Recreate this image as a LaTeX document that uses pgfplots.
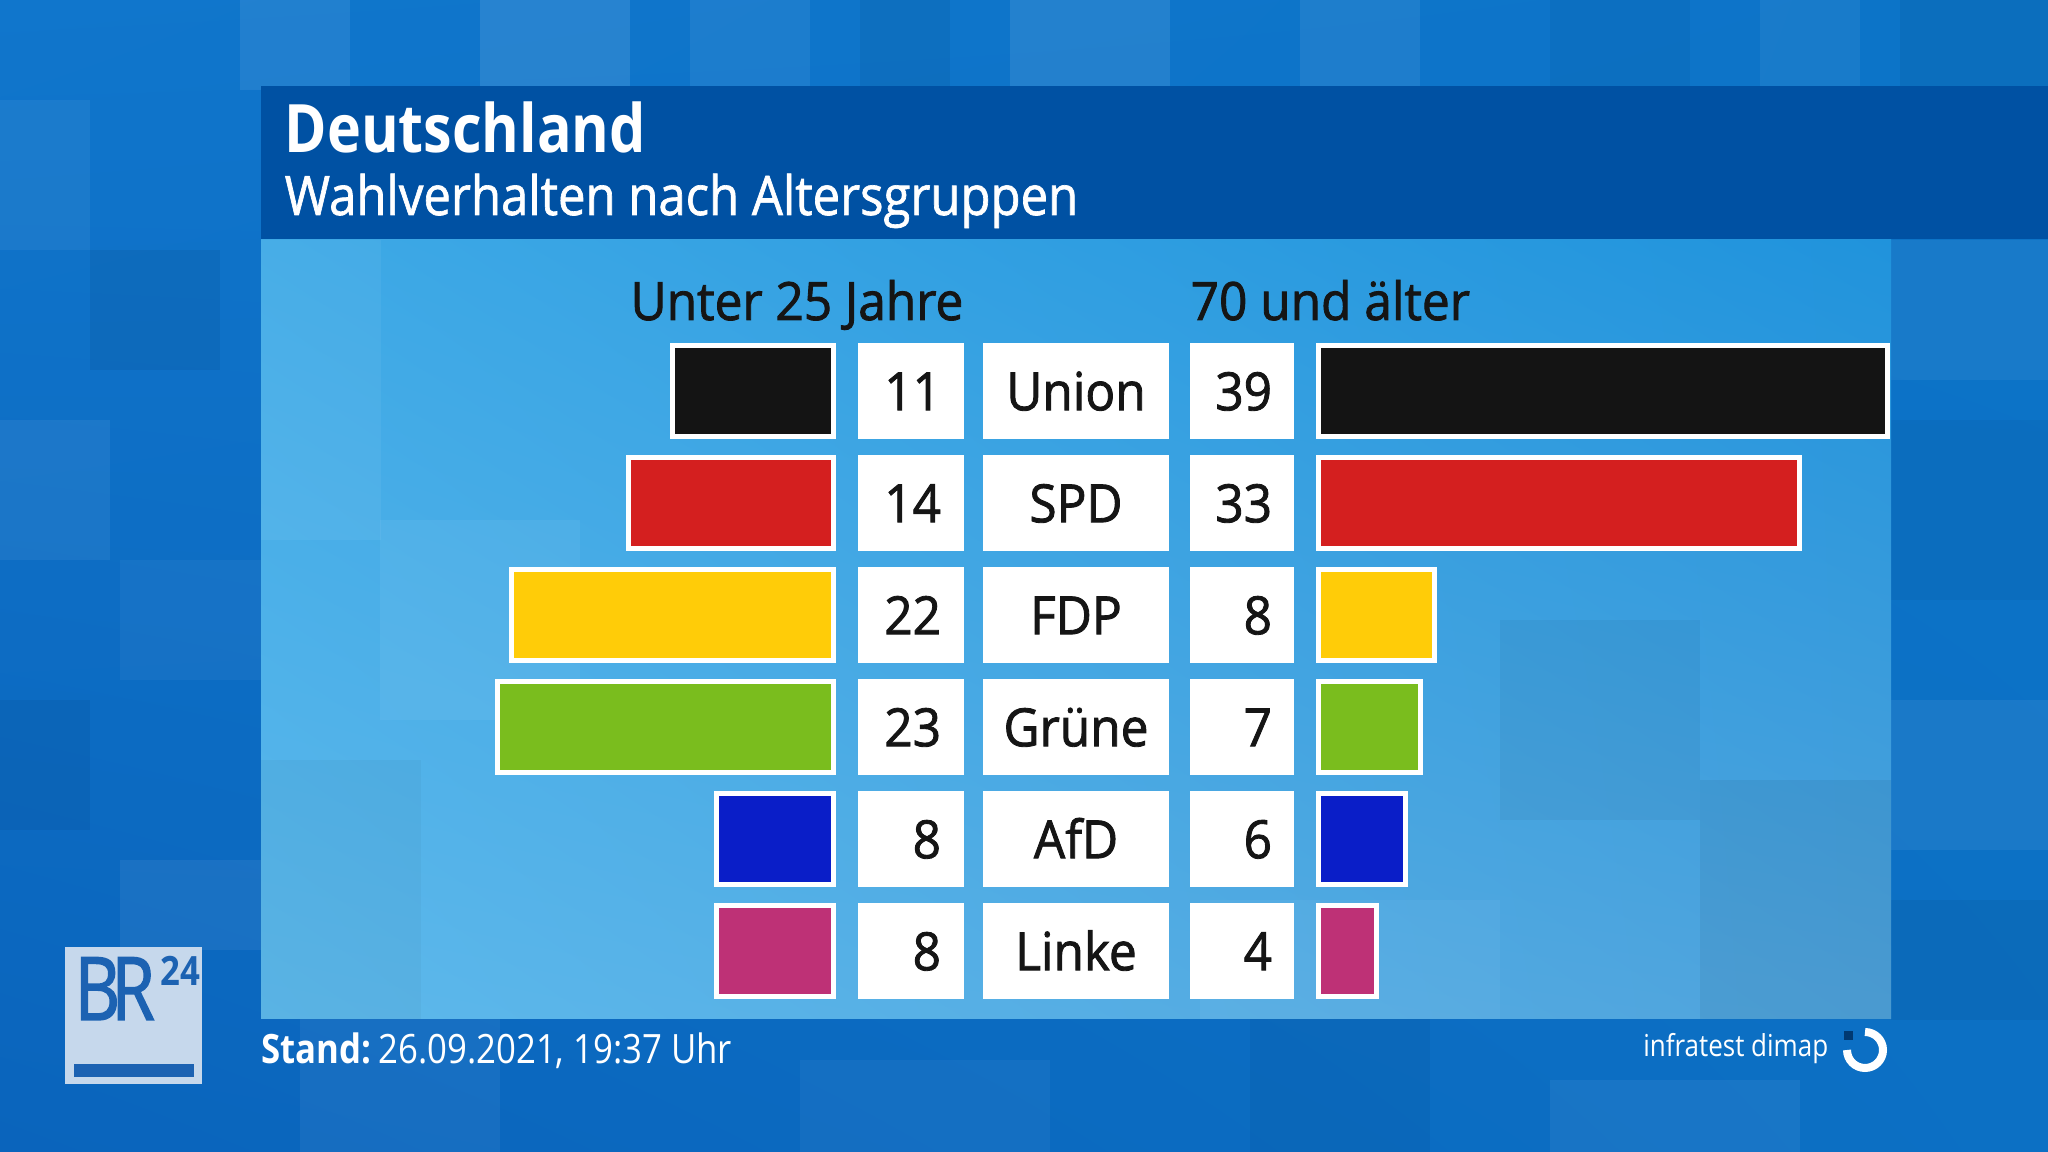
\documentclass[border=0pt]{standalone}
\usepackage{fontspec}
\setmainfont{Open Sans}[FakeStretch=0.9]
\newfontfamily\headfont{Open Sans}[FakeStretch=0.86]
\newfontfamily\midfont{Open Sans}[FakeStretch=0.94, FakeBold=1.6]
\newfontfamily\subfont{Open Sans}[FakeStretch=0.9, FakeBold=1.2]
\newfontfamily\logofont{Open Sans}[FakeStretch=0.8, FakeBold=1.5]
\usepackage{pgfplots}
\usepackage{pgfplotstable}
\usetikzlibrary{shadings}
\pgfplotsset{compat=1.18}

\definecolor{ink}{HTML}{151515}
\definecolor{titleblue}{HTML}{0051A3}
\definecolor{logobg}{HTML}{C6D8EC}
\definecolor{logoblue}{HTML}{1C62B2}
\definecolor{bgUL}{RGB}{16,118,204}
\definecolor{bgUR}{RGB}{12,116,200}
\definecolor{bgLL}{RGB}{10,100,188}
\definecolor{bgLR}{RGB}{12,112,196}
\definecolor{pnUL}{RGB}{62,169,230}
\definecolor{pnUR}{RGB}{32,147,220}
\definecolor{pnLL}{RGB}{93,185,236}
\definecolor{pnLR}{RGB}{79,163,220}
\definecolor{p0}{HTML}{141414}% Union
\definecolor{p1}{HTML}{D41F1F}% SPD
\definecolor{p2}{HTML}{FFCC08}% FDP
\definecolor{p3}{HTML}{7ABD1E}% Gruene
\definecolor{p4}{HTML}{0A1EC8}% AfD
\definecolor{p5}{HTML}{BE3176}% Linke

% Wahlverhalten nach Altersgruppen, Angaben in Prozent
\pgfplotstableread{
row young old party
0   11    39  Union
1   14    33  SPD
2   22    8   FDP
3   23    7   Grüne
4   8     6   AfD
5   8     4   Linke
}\votes

\tikzset{
  box/.style={fill=white, text=ink, inner xsep=0pt, inner ysep=0pt,
    minimum height=9.6mm, text height=3.85mm, text depth=0pt,
    font=\midfont\fontsize{15}{15}\selectfont},
}
\pgfplotsset{
  party/.style={xbar, bar shift=0pt, bar width=9.1mm, draw=white,
    line width=0.5mm, fill=#1},
  labels/.style={draw=none, mark=none, nodes near coords,
    point meta=explicit symbolic},
  rows/.style={hide axis, clip=false, y dir=reverse, x=1.46mm, y=11.2mm,
    xmin=0, xmax=40, ymin=-0.5, ymax=5.5},
}

\begin{document}
\begin{tikzpicture}
\begin{scope}[x=0.1mm,y=-0.1mm]
\path[use as bounding box] (0,0) rectangle (2048,1152);
% background
\shade[upper left=bgUL, upper right=bgUR, lower left=bgLL, lower right=bgLR]
  (0,0) rectangle (2048,1152);
\foreach \x/\y/\w/\h/\c/\o in {
  240/0/110/90/white/0.08, 480/0/150/90/white/0.10, 690/0/120/90/white/0.06,
  860/0/90/90/black/0.05, 1010/0/160/90/white/0.09, 1300/0/120/90/white/0.07,
  1550/0/140/90/black/0.04, 1760/0/100/90/white/0.05, 1900/0/148/120/black/0.05,
  0/100/90/150/white/0.05, 90/250/130/120/black/0.06, 0/420/110/140/white/0.06,
  120/560/141/120/white/0.04, 0/700/90/130/black/0.05, 120/860/141/90/white/0.06,
  1891/240/157/140/white/0.05, 1891/420/157/180/black/0.04, 1891/700/157/150/white/0.06,
  1891/900/157/120/black/0.05, 300/1019/200/133/white/0.05, 800/1060/250/92/white/0.04,
  1250/1019/180/133/black/0.04, 1550/1080/250/72/white/0.05}
  \fill[\c, opacity=\o] (\x,\y) rectangle ++(\w,\h);
% panel
\shade[upper left=pnUL, upper right=pnUR, lower left=pnLL, lower right=pnLR]
  (261,239) rectangle (1891,1019);
\foreach \x/\y/\w/\h/\c/\o in {
  261/240/120/300/white/0.05, 380/520/200/200/white/0.05, 261/760/160/259/black/0.03,
  1500/620/200/200/black/0.04, 1700/780/191/239/black/0.05, 1200/900/300/119/white/0.04}
  \fill[\c, opacity=\o] (\x,\y) rectangle ++(\w,\h);
% title bar
\fill[titleblue] (261,86) rectangle (2048,239);
\node[anchor=base west, inner sep=0, text=white, font=\headfont\fontsize{19}{19}\selectfont\bfseries]
  at (284,153) {Deutschland};
\node[anchor=base west, inner sep=0, text=white, font=\subfont\fontsize{15.5}{15.5}\selectfont]
  at (284,215) {Wahlverhalten nach Altersgruppen};
% column heads
\node[anchor=base east, inner sep=0, text=ink, font=\midfont\fontsize{15}{15}\selectfont]
  at (964,320) {Unter 25 Jahre};
\node[anchor=base west, inner sep=0, text=ink, font=\midfont\fontsize{15}{15}\selectfont]
  at (1190,320) {70 und älter};
% footer
\node[anchor=base west, inner sep=0, text=white, font=\headfont\fontsize{11.5}{11.5}\selectfont]
  at (261,1064) {\textbf{Stand:}\,26.09.2021, 19:37 Uhr};
\node[anchor=base east, inner sep=0, text=white, font=\headfont\fontsize{8.6}{8.6}\selectfont]
  at (1829,1057) {infratest dimap};
\draw[white, line width=0.8mm] (1865,1032) arc[start angle=-90, end angle=180, radius=18];
\fill[titleblue!70!black] (1844,1031) rectangle ++(9,9);
% BR24 logo
\fill[logobg] (65,947) rectangle (202,1084);
\node[anchor=base west, inner sep=0, text=logoblue,
  font=\logofont\fontsize{25}{25}\selectfont] at (74,1020) {B\kern-0.1em R};
\node[anchor=base west, inner sep=0, text=logoblue,
  font=\headfont\fontsize{11.5}{11.5}\selectfont\bfseries] at (160,986) {24};
\fill[logoblue] (74,1064) rectangle (194,1077);
\end{scope}

% under 25
\begin{axis}[rows, at={(83.3mm,-33.5mm)}, anchor=north east, x dir=reverse]
\pgfplotsinvokeforeach{0,...,5}{
  \addplot[party=p#1, restrict expr to domain={\coordindex}{#1:#1}]
    table[x=young, y=row] {\votes};
}
\addplot[labels, every node near coord/.append style={box, anchor=center,
    xshift=7.8mm, minimum width=10.6mm, text width=6mm, align=right}]
  table[x expr=0, y=row, meta=young] {\votes};
\addplot[labels, every node near coord/.append style={box, anchor=center,
    xshift=24.3mm, minimum width=18.6mm, align=center}]
  table[x expr=0, y=row, meta=party] {\votes};
\end{axis}

% 70 and older
\begin{axis}[rows, at={(131.8mm,-33.5mm)}, anchor=north west]
\pgfplotsinvokeforeach{0,...,5}{
  \addplot[party=p#1, restrict expr to domain={\coordindex}{#1:#1}]
    table[x=old, y=row] {\votes};
}
\addplot[labels, every node near coord/.append style={box, anchor=center,
    xshift=-7.6mm, minimum width=10.4mm, text width=6mm, align=right}]
  table[x expr=0, y=row, meta=old] {\votes};
\end{axis}
\end{tikzpicture}
\end{document}
